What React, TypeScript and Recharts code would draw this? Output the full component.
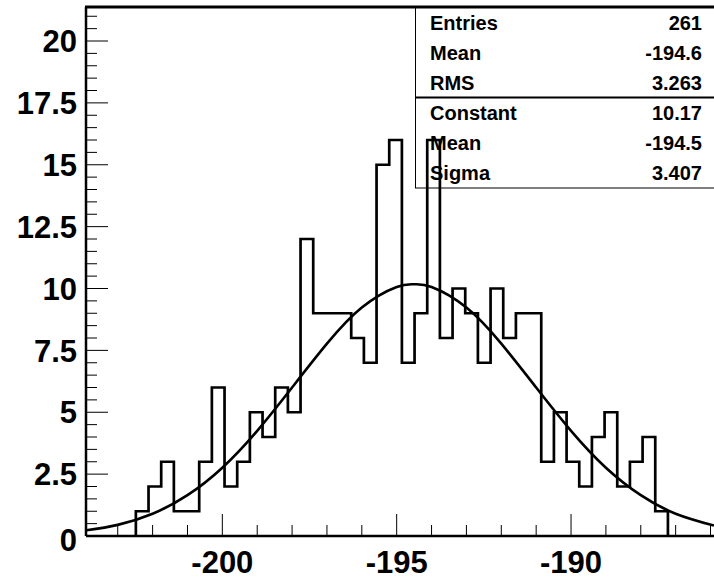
import React from 'react'
import { ComposedChart, Line, XAxis, YAxis } from 'recharts'

// histogram: counts per bin (sum = 261 entries)
const BIN_COUNTS = [
  1, 2, 3, 1, 1, 3, 6, 2, 3, 5, 4, 6, 5, 12, 9, 9, 9, 8, 7, 15, 16,
  7, 9, 16, 8, 10, 9, 7, 10, 8, 9, 9, 3, 5, 3, 2, 4, 5, 2, 3, 4, 1,
]
const BIN_LO = -202.48
const BIN_W = 0.3633

// gaus fit curve
const FIT_X = [-203.9, -203, -202, -201, -200, -199, -198, -197, -196, -195, -194.5, -194, -193, -192, -191, -190, -189, -188, -187, -185.9]
const FIT_Y = [0.23, 0.45, 0.9, 1.65, 2.76, 4.25, 6.0, 7.77, 9.23, 10.06, 10.17, 10.06, 9.23, 7.77, 6.0, 4.25, 2.76, 1.65, 0.9, 0.42]

const X_LABELS = [-200, -195, -190]
const Y_LABELS = [0, 2.5, 5, 7.5, 10, 12.5, 15, 17.5, 20]

const STATS_TOP = [
  ['Entries', '261'],
  ['Mean', '-194.6'],
  ['RMS', '3.263'],
]
const STATS_FIT = [
  ['Constant', '10.17'],
  ['Mean', '-194.5'],
  ['Sigma', '3.407'],
]

const W = 714
const H = 579
const LEFT = 86
const TOP = 7
const BOTTOM = 536
const X_MIN = -203.91
const X_MAX = -185.9
const Y_MAX = 21.374

const FONT = '"Liberation Sans", Arial, Helvetica, sans-serif'

const histPts = [
  { x: BIN_LO, y: 0 },
  ...BIN_COUNTS.map((c, i) => ({ x: BIN_LO + i * BIN_W, y: c })),
  { x: BIN_LO + BIN_COUNTS.length * BIN_W, y: 0 },
]
const fitPts = FIT_X.map((x, i) => ({ x, y: FIT_Y[i] }))

const xTicks: number[] = []
for (let v = -203; v <= -186; v++) xTicks.push(v)
const yTicks: number[] = []
for (let i = 0; i <= 42; i++) yTicks.push(i * 0.5)

const XTick = (props: any) => {
  const { x, payload } = props
  const v = payload.value
  const major = X_LABELS.includes(v)
  return (
    <g>
      <line x1={x} x2={x} y1={BOTTOM} y2={BOTTOM - (major ? 22 : 11)} stroke="#000" strokeWidth={1} />
      {major && (
        <text x={x} y={573} textAnchor="middle" fontFamily={FONT} fontWeight="bold" fontSize={31} fill="#000">
          {String(v)}
        </text>
      )}
    </g>
  )
}

const YTick = (props: any) => {
  const { y, payload } = props
  const v = payload.value
  const major = Y_LABELS.includes(v)
  return (
    <g>
      <line x1={LEFT} x2={LEFT + (major ? 22 : 11)} y1={y} y2={y} stroke="#000" strokeWidth={1} />
      {major && (
        <text x={77} y={v === 0 ? y + 4 : y} dy="0.36em" textAnchor="end" fontFamily={FONT} fontWeight="bold" fontSize={31} fill="#000">
          {String(v)}
        </text>
      )}
    </g>
  )
}

function StatsBox() {
  const rowsTop = [29.5, 59.5, 89.5]
  const rowsFit = [120, 150, 180]
  const txt = { fontFamily: FONT, fontWeight: 'bold' as const, fontSize: 20, fill: '#000' }
  return (
    <svg width={W} height={H} style={{ position: 'absolute', left: 0, top: 0 }}>
      <rect x={415.5} y={7} width={310} height={181} fill="#fff" stroke="#000" strokeWidth={1} />
      <line x1={415} x2={W} y1={97.5} y2={97.5} stroke="#000" strokeWidth={2} />
      <line x1={LEFT - 1} x2={W} y1={TOP} y2={TOP} stroke="#000" strokeWidth={3} />
      {STATS_TOP.map(([k, v], i) => (
        <g key={'a' + i}>
          <text x={430} y={rowsTop[i]} {...txt}>{k}</text>
          <text x={702} y={rowsTop[i]} textAnchor="end" {...txt}>{v}</text>
        </g>
      ))}
      {STATS_FIT.map(([k, v], i) => (
        <g key={'b' + i}>
          <text x={430} y={rowsFit[i]} {...txt}>{k}</text>
          <text x={702} y={rowsFit[i]} textAnchor="end" {...txt}>{v}</text>
        </g>
      ))}
    </svg>
  )
}

export default function App() {
  return (
    <div style={{ position: 'absolute', left: 0, top: 0, width: W, height: H, background: '#fff' }}>
      <StatsBox />
      <div style={{ position: 'absolute', left: 0, top: 0 }}>
        <ComposedChart width={W} height={H} margin={{ top: TOP, right: 0, bottom: H - BOTTOM - 1, left: LEFT - 1 }}>
          <XAxis
            type="number"
            dataKey="x"
            domain={[X_MIN, X_MAX]}
            allowDataOverflow
            ticks={xTicks}
            interval={0}
            height={1}
            tickSize={0}
            tickMargin={0}
            tickLine={false}
            axisLine={{ stroke: '#000', strokeWidth: 2.5 }}
            tick={<XTick />}
          />
          <YAxis
            type="number"
            dataKey="y"
            domain={[0, Y_MAX]}
            allowDataOverflow
            ticks={yTicks}
            interval={0}
            width={1}
            tickSize={0}
            tickMargin={0}
            tickLine={false}
            axisLine={{ stroke: '#000', strokeWidth: 2.5 }}
            tick={<YTick />}
          />
          <Line
            data={histPts}
            dataKey="y"
            type="stepAfter"
            stroke="#000"
            strokeWidth={2.7}
            dot={false}
            activeDot={false}
            isAnimationActive={false}
          />
          <Line
            data={fitPts}
            dataKey="y"
            type="natural"
            stroke="#000"
            strokeWidth={2.6}
            dot={false}
            activeDot={false}
            isAnimationActive={false}
          />
        </ComposedChart>
      </div>
    </div>
  )
}
